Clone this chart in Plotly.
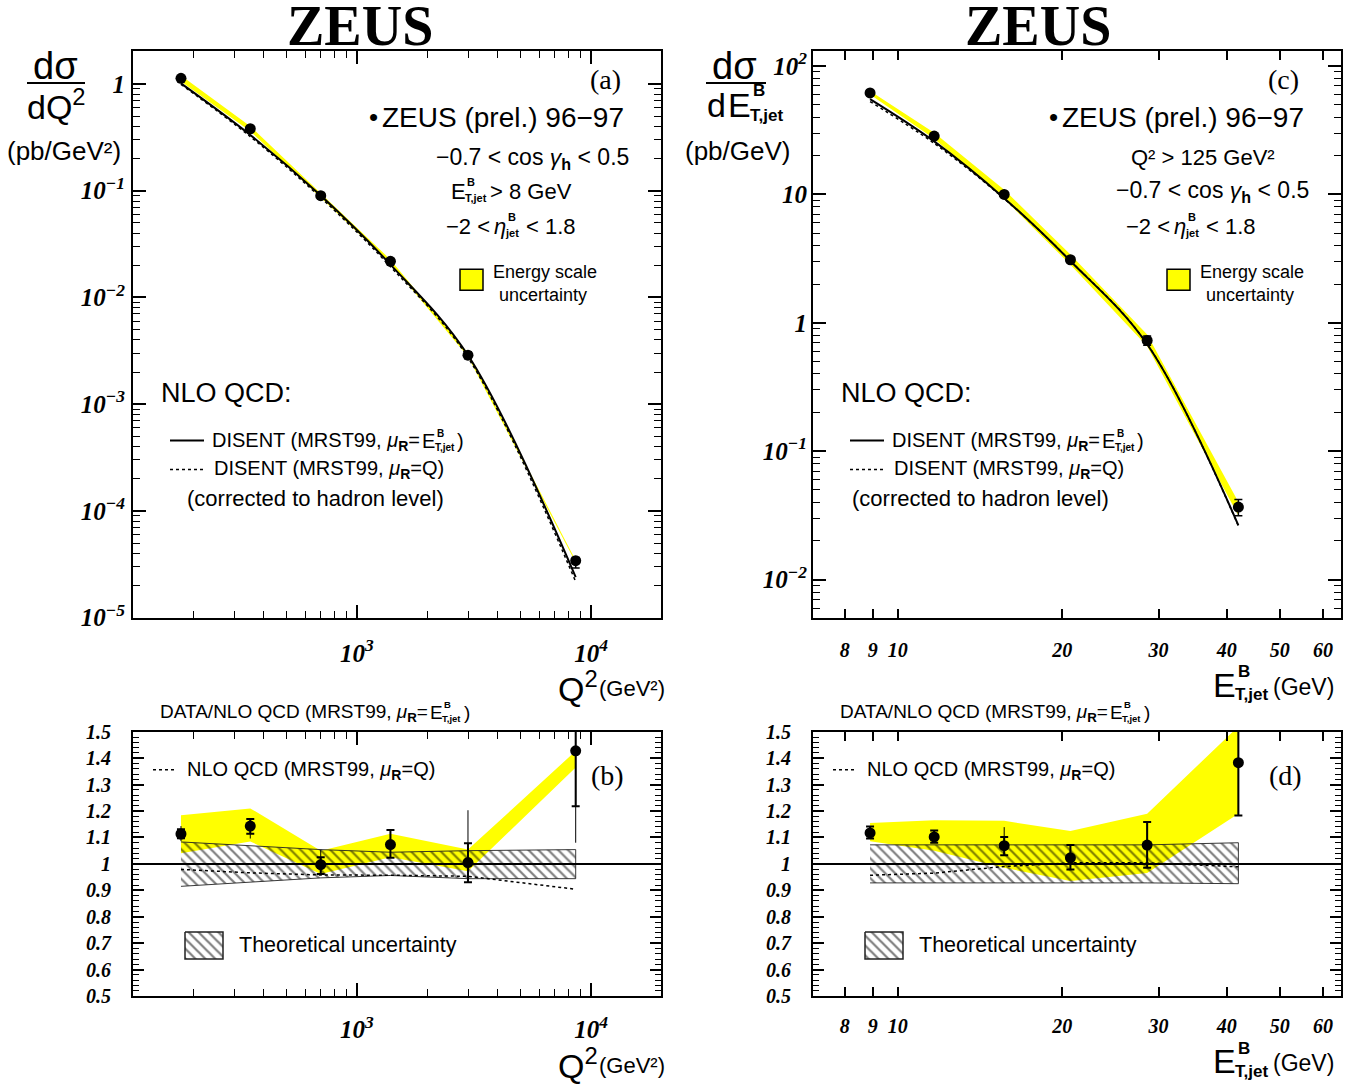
import plotly.graph_objects as go

W, H = 1346, 1087

# ---------------- data: Q^2 distribution (panels a, b) ----------------
q2 = [177, 350, 700, 1390, 2980, 8600]
xsec_q2 = [1.13, 0.381, 0.0898, 0.0218, 0.00288, 3.42e-5]
nlo_q2 = [1.015, 0.333, 0.0901, 0.0203, 0.00287, 2.40e-5]
ratio_q2 = [1.113, 1.143, 0.997, 1.073, 1.005, 1.428]
ratio_q2_stat_up = [0.018, 0.027, 0.028, 0.055, 0.073, 0.100]
ratio_q2_stat_dn = [0.016, 0.029, 0.035, 0.050, 0.075, 0.210]
ratio_q2_tot_up = [0.030, 0.030, 0.057, 0.055, 0.198, 0.100]
ratio_q2_tot_dn = [0.027, 0.047, 0.035, 0.050, 0.075, 0.348]
escale_q2_lo = [1.040, 1.085, 0.962, 1.025, 0.972, 1.365]
escale_q2_hi = [1.184, 1.210, 1.050, 1.114, 1.054, 1.427]
theory_q2_lo = [0.915, 0.932, 0.947, 0.956, 0.944, 0.944]
theory_q2_hi = [1.083, 1.070, 1.054, 1.044, 1.050, 1.054]
muq_q2 = [0.979, 0.966, 0.958, 0.957, 0.953, 0.904]

# ---------------- data: E_T,jet distribution (panels c, d) ----------------
et_jet = [8.9, 11.66, 15.66, 20.7, 28.6, 42.0]
xsec_et = [61.8, 28.5, 10.0, 3.10, 0.729, 0.0367]
nlo_et = [55.3, 25.9, 9.36, 3.03, 0.681, 0.0265]
ratio_et = [1.117, 1.102, 1.069, 1.023, 1.071, 1.383]
ratio_et_stat_up = [0.024, 0.024, 0.033, 0.048, 0.087, 0.200]
ratio_et_stat_dn = [0.021, 0.022, 0.036, 0.044, 0.086, 0.200]
ratio_et_tot_up = [0.024, 0.024, 0.070, 0.048, 0.087, 0.200]
ratio_et_tot_dn = [0.021, 0.022, 0.036, 0.044, 0.086, 0.200]
escale_et_lo = [1.086, 1.050, 0.985, 0.935, 0.965, 1.190]
escale_et_hi = [1.155, 1.165, 1.163, 1.124, 1.190, 1.520]
theory_et_lo = [0.928, 0.928, 0.928, 0.928, 0.928, 0.925]
theory_et_hi = [1.072, 1.072, 1.072, 1.072, 1.072, 1.080]
muq_et = [0.957, 0.965, 0.990, 1.004, 1.004, 0.989]

et_tickvals = [8, 9, 10, 20, 30, 40, 50, 60]
et_ticktext = ['8', '9', '10', '20', '30', '40', '50', '60']

SANS = 'Liberation Sans'
SERIF = 'Liberation Serif'
YELLOW = '#ffff00'
TICKFONT = dict(family=SERIF, size=20, color='black', weight='bold', style='italic')


def Y(y):
    # vertical pixel position in the page (compensates the page's vertical placement)
    return (y - 11.0) / 0.976


fig = go.Figure()


def mul(a, b):
    return [u * v for u, v in zip(a, b)]


def band(x, lo, hi, xa, ya, **kw):
    return go.Scatter(x=list(x) + list(x)[::-1], y=list(hi) + list(lo)[::-1],
                      xaxis=xa, yaxis=ya, mode='lines', fill='toself',
                      hoverinfo='skip', **kw)


HATCH = dict(shape='\\', fgcolor='black', size=7, solidity=0.32)


def top_panel(x, xsec, nlo, ratio, sup, sdn, elo, ehi, muq, xa, ya):
    fig.add_trace(band(x, mul(nlo, elo), mul(nlo, ehi), xa, ya,
                       fillcolor=YELLOW, line=dict(width=0, color=YELLOW)))
    fig.add_trace(go.Scatter(x=x, y=mul(nlo, muq), xaxis=xa, yaxis=ya, mode='lines',
                             line=dict(color='black', width=1.5, dash='3px,3px', shape='spline')))
    fig.add_trace(go.Scatter(x=x, y=nlo, xaxis=xa, yaxis=ya, mode='lines',
                             line=dict(color='black', width=2, shape='spline')))
    eu = [v * u / r for v, u, r in zip(xsec, sup, ratio)]
    ed = [v * d / r for v, d, r in zip(xsec, sdn, ratio)]
    fig.add_trace(go.Scatter(x=x, y=xsec, xaxis=xa, yaxis=ya, mode='markers',
                             marker=dict(color='black', size=11),
                             error_y=dict(type='data', symmetric=False, array=eu, arrayminus=ed,
                                          color='black', thickness=1.5, width=4)))


def ratio_panel(x, ratio, sup, sdn, tup, tdn, elo, ehi, tlo, thi, muq, xa, ya):
    fig.add_trace(band(x, elo, ehi, xa, ya, fillcolor=YELLOW, line=dict(width=0, color=YELLOW)))
    fig.add_trace(band(x, tlo, thi, xa, ya, fillcolor='rgba(0,0,0,0)', fillpattern=HATCH,
                       line=dict(color='#222222', width=0.9)))
    fig.add_trace(go.Scatter(x=x, y=muq, xaxis=xa, yaxis=ya, mode='lines',
                             line=dict(color='black', width=1.5, dash='3px,3px')))
    fig.add_trace(go.Scatter(x=x, y=ratio, xaxis=xa, yaxis=ya, mode='markers',
                             marker=dict(color='rgba(0,0,0,0)', size=1),
                             error_y=dict(type='data', symmetric=False, array=tup, arrayminus=tdn,
                                          color='black', thickness=1, width=0)))
    fig.add_trace(go.Scatter(x=x, y=ratio, xaxis=xa, yaxis=ya, mode='markers',
                             marker=dict(color='black', size=11),
                             error_y=dict(type='data', symmetric=False, array=sup, arrayminus=sdn,
                                          color='black', thickness=2, width=4)))
    fig.add_shape(type='line', xref=xa + ' domain', yref=ya, x0=0, x1=1, y0=1, y1=1,
                  line=dict(color='black', width=2))


top_panel(q2, xsec_q2, nlo_q2, ratio_q2, ratio_q2_stat_up, ratio_q2_stat_dn,
          escale_q2_lo, escale_q2_hi, muq_q2, 'x', 'y')
ratio_panel(q2, ratio_q2, ratio_q2_stat_up, ratio_q2_stat_dn, ratio_q2_tot_up, ratio_q2_tot_dn,
            escale_q2_lo, escale_q2_hi, theory_q2_lo, theory_q2_hi, muq_q2, 'x2', 'y2')
top_panel(et_jet, xsec_et, nlo_et, ratio_et, ratio_et_stat_up, ratio_et_stat_dn,
          escale_et_lo, escale_et_hi, muq_et, 'x3', 'y3')
ratio_panel(et_jet, ratio_et, ratio_et_stat_up, ratio_et_stat_dn, ratio_et_tot_up, ratio_et_tot_dn,
            escale_et_lo, escale_et_hi, theory_et_lo, theory_et_hi, muq_et, 'x4', 'y4')

# ---------------- axes ----------------
XL = [133 / W, 661 / W]
XR = [813 / W, 1341 / W]
YT = [1 - Y(617) / H, 1 - Y(51) / H]
YB = [1 - Y(995) / H, 1 - Y(731) / H]

common = dict(showline=True, linecolor='black', linewidth=2, mirror='ticks', ticks='inside',
              tickcolor='black', tickwidth=1.5, showgrid=False, zeroline=False,
              tickfont=TICKFONT, fixedrange=True)
minor_log = dict(ticks='inside', ticklen=7, tickwidth=1.2, tickcolor='black', dtick='D1', showgrid=False)
minor_lin = dict(ticks='inside', ticklen=6, tickwidth=1.2, tickcolor='black', dtick=0.02, showgrid=False)

fig.update_layout(
    xaxis=dict(type='log', domain=XL, range=[2.043, 4.299], anchor='y', dtick=1,
               exponentformat='power', ticklen=13, minor=minor_log, ticklabelstandoff=13, **common),
    yaxis=dict(type='log', domain=YT, range=[-5, 0.309], anchor='x', dtick=1,
               exponentformat='power', ticklen=13, minor=minor_log, ticklabelstandoff=2, **common),
    xaxis2=dict(type='log', domain=XL, range=[2.043, 4.299], anchor='y2', dtick=1,
                exponentformat='power', ticklen=13, minor=minor_log, ticklabelstandoff=11, **common),
    yaxis2=dict(domain=YB, range=[0.5, 1.5], anchor='x2', dtick=0.1, tick0=0.5, ticklen=11,
                minor=minor_lin, ticklabelstandoff=16, **common),
    xaxis3=dict(type='log', domain=XR, range=[0.845, 1.811], anchor='y3', tickvals=et_tickvals,
                ticktext=et_ticktext, ticklen=9, ticklabelstandoff=13, **common),
    yaxis3=dict(type='log', domain=YT, range=[-2.296, 2.117], anchor='x3', dtick=1,
                exponentformat='power', ticklen=13, minor=minor_log, ticklabelstandoff=0, **common),
    xaxis4=dict(type='log', domain=XR, range=[0.845, 1.811], anchor='y4', tickvals=et_tickvals,
                ticktext=et_ticktext, ticklen=9, ticklabelstandoff=11, **common),
    yaxis4=dict(domain=YB, range=[0.5, 1.5], anchor='x4', dtick=0.1, tick0=0.5, ticklen=11,
                minor=minor_lin, ticklabelstandoff=16, **common),
    # full-page overlay in pixel units, used for legend swatches
    xaxis5=dict(domain=[0, 1], range=[0, W], anchor='y5', visible=False, fixedrange=True),
    yaxis5=dict(domain=[0, 1], range=[H, 0], anchor='x5', visible=False, fixedrange=True),
)


# ---------------- text helpers (pixel coordinates) ----------------
def txt(x, y, s, size=20, anchor='left', family=SANS, weight='normal', style='normal'):
    fig.add_annotation(x=x / W, y=1 - Y(y) / H, xref='paper', yref='paper', text=s, showarrow=False,
                       xanchor=anchor, yanchor='middle', borderpad=0,
                       font=dict(family=family, size=size, color='black', weight=weight, style=style))


def stacked(x, y, base, sup, sub, size, base_w=0.667, italic=False, sup_dy=0.42):
    txt(x, y, base, size, style='italic' if italic else 'normal')
    sx = x + base_w * size
    txt(sx - 0.03 * size, y + 0.30 * size, sub, 0.5 * size, weight='bold')
    txt(sx + 0.08 * size, y - sup_dy * size, sup, 0.5 * size, weight='bold')


def line_px(x0, x1, y, dash='solid', width=2):
    fig.add_shape(type='line', xref='paper', yref='paper', x0=x0 / W, x1=x1 / W,
                  y0=1 - Y(y) / H, y1=1 - Y(y) / H, line=dict(color='black', width=width, dash=dash))


def rect_px(x0, y0, x1, y1, color):
    fig.add_shape(type='rect', xref='paper', yref='paper', x0=x0 / W, x1=x1 / W,
                  y0=1 - Y(y1) / H, y1=1 - Y(y0) / H, fillcolor=color, line=dict(color='black', width=1.5))


def hatch_box(x0, y0, x1, y1):
    fig.add_trace(go.Scatter(x=[x0, x1, x1, x0, x0], y=[Y(y0), Y(y0), Y(y1), Y(y1), Y(y0)],
                             xaxis='x5', yaxis='y5',
                             mode='lines', fill='toself', fillcolor='rgba(0,0,0,0)',
                             fillpattern=HATCH,
                             line=dict(color='#222222', width=1.5), hoverinfo='skip'))


MU_R = '<i>μ</i><sub><b>R</b></sub>'
GAMMA = 'cos <i>γ</i><sub><b>h</b></sub>'

for dx, lab_top, lab_bot in [(0, '(a)', '(b)'), (678, '(c)', '(d)')]:
    txt(360 + dx, 26, 'ZEUS', 56, anchor='center', family=SERIF, weight='bold')
    txt(605 + dx, 79, lab_top, 28, anchor='center', family=SERIF)
    txt(607 + dx, 775, lab_bot, 28, anchor='center', family=SERIF)

for dx in [0, 680]:
    txt(368 + dx, 117, '•', 26)
    txt(381 + dx, 117, 'ZEUS (prel.) 96−97', 28)
    txt(160 + dx, 393, 'NLO QCD:', 27)
    line_px(170 + dx, 204 + dx, 440)
    line_px(170 + dx, 204 + dx, 469, dash='3px,3px', width=1.5)
    txt(421 + dx, 441, 'DISENT (MRST99, ' + MU_R + '=', 20, anchor='right')
    stacked(421 + dx, 441, 'E', 'B', 'T,jet', 20)
    txt(456 + dx, 441, ')', 20)
    txt(213 + dx, 469, 'DISENT (MRST99, ' + MU_R + '=Q)', 20)
    # ratio panels
    txt(429 + dx, 712, 'DATA/NLO QCD (MRST99, ' + MU_R + '=', 19, anchor='right')
    stacked(429 + dx, 712, 'E', 'B', 'T,jet', 19)
    txt(463 + dx, 712, ')', 19)
    line_px(153 + dx, 177 + dx, 769, dash='3px,3px', width=1.5)
    txt(186 + dx, 770, 'NLO QCD (MRST99, ' + MU_R + '=Q)', 20)
    hatch_box(185 + dx, 931, 223 + dx, 958)
    txt(238 + dx, 944, 'Theoretical uncertainty', 21.5)

txt(186, 498, '(corrected to hadron level)', 22)
txt(851, 498, '(corrected to hadron level)', 22)

# panel (a) selection
txt(435, 158, '−0.7 < ' + GAMMA + ' < 0.5', 23)
stacked(450, 191, 'E', 'B', 'T,jet', 22)
txt(489, 191, '> 8 GeV', 22)
txt(491, 226, '−2 <', 22, anchor='right')
stacked(493, 226, 'η', 'B', 'jet', 22, base_w=0.55, italic=True)
txt(525, 226, '< 1.8', 22)
rect_px(460, 269, 483, 290, YELLOW)
txt(492, 272, 'Energy scale', 18)
txt(498, 295, 'uncertainty', 18)

# panel (c) selection
txt(1130, 157, 'Q² > 125 GeV²', 22)
txt(1115, 191, '−0.7 < ' + GAMMA + ' < 0.5', 23)
txt(1171, 226, '−2 <', 22, anchor='right')
stacked(1173, 226, 'η', 'B', 'jet', 22, base_w=0.55, italic=True)
txt(1205, 226, '< 1.8', 22)
rect_px(1167, 269, 1190, 290, YELLOW)
txt(1199, 272, 'Energy scale', 18)
txt(1205, 295, 'uncertainty', 18)

# y-axis titles
txt(55, 66, 'dσ', 38, anchor='center')
line_px(27, 85, 83, width=2)
txt(56, 104, 'dQ<sup>2</sup>', 34, anchor='center')
txt(64, 151, '(pb/GeV²)', 26, anchor='center')

txt(735, 66, 'dσ', 38, anchor='center')
line_px(706, 766, 83, width=2)
txt(727, 105, 'd', 34, anchor='right')
stacked(727, 105, 'E', 'B', 'T,jet', 34)
txt(738, 151, '(pb/GeV)', 26, anchor='center')

# x-axis titles
for y in [686, 1062]:
    txt(557, y, 'Q<sup>2</sup>', 34)
    txt(598, y + 2, '(GeV²)', 22)
    stacked(1212, y - 2, 'E', 'B', 'T,jet', 34, sup_dy=0.38)
    txt(1272, y, '(GeV)', 23)

fig.update_layout(width=W, height=H, margin=dict(l=0, r=0, t=0, b=0),
                  paper_bgcolor='white', plot_bgcolor='rgba(0,0,0,0)', showlegend=False)

fig.write_html('out.html')
